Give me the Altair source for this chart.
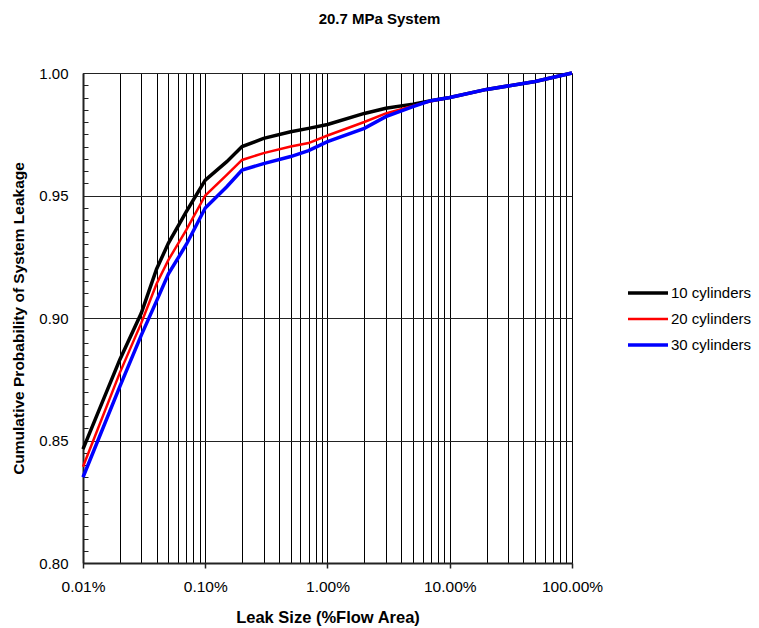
import altair as alt
import pandas as pd

# Leak size in percent of flow area (log axis)
leak_size = [0.01, 0.02, 0.03, 0.04, 0.05, 0.07, 0.1, 0.15, 0.2, 0.3,
             0.5, 0.7, 1, 2, 3, 5, 7, 10, 20, 50, 100]

# Cumulative probability of system leakage per configuration
p_10_cyl = [0.8465, 0.883, 0.902, 0.920, 0.9306, 0.9434, 0.9563, 0.9638, 0.970, 0.9733,
            0.976, 0.9774, 0.979, 0.9835, 0.9856, 0.9873, 0.9887, 0.990, 0.9933, 0.9965, 1.0]
p_20_cyl = [0.8393, 0.8776, 0.898, 0.914, 0.9237, 0.936, 0.950, 0.9584, 0.9645, 0.9673,
            0.970, 0.9714, 0.9745, 0.980, 0.9835, 0.9866, 0.9885, 0.990, 0.9933, 0.9965, 1.0]
p_30_cyl = [0.835, 0.872, 0.893, 0.907, 0.918, 0.930, 0.9449, 0.9536, 0.9604, 0.963,
            0.9659, 0.9683, 0.972, 0.9774, 0.9822, 0.9863, 0.9887, 0.990, 0.9933, 0.9965, 1.0]

series_names = ["10 cylinders", "20 cylinders", "30 cylinders"]
series_colors = ["#000000", "#ff0000", "#0000ff"]
series_widths = [3.5, 2.5, 3.5]

rows = []
for name, vals in zip(series_names, [p_10_cyl, p_20_cyl, p_30_cyl]):
    for i, (s, p) in enumerate(zip(leak_size, vals)):
        rows.append({"series": name, "size": s, "prob": p, "order": i})
df = pd.DataFrame(rows)

# Axis tick positions
x_decades = [0.01, 0.1, 1, 10, 100]
x_grid = [round(m * d, 6) for d in [0.01, 0.1, 1, 10] for m in range(1, 10)] + [100]
y_major = [0.80, 0.85, 0.90, 0.95, 1.00]
y_minor = [round(0.80 + 0.005 * i, 3) for i in range(41)]

FONT = "Liberation Sans"
x_scale = alt.Scale(type="log", domain=[0.01, 100], nice=False)
y_scale = alt.Scale(domain=[0.8, 1.0], nice=False, zero=False)

# Background layer: minor vertical grid and inward minor y ticks
grid_layer = alt.Chart(df).mark_line(opacity=0).encode(
    x=alt.X("size:Q", scale=x_scale,
            axis=alt.Axis(orient="bottom", values=x_grid, grid=True, gridColor="#000000",
                          gridWidth=1, gridOpacity=1, ticks=False, labels=False,
                          domain=False, title=None)),
    y=alt.Y("prob:Q", scale=y_scale,
            axis=alt.Axis(orient="left", values=y_minor, grid=False, ticks=True,
                          tickSize=5, tickWidth=1, tickColor="#222222", labels=False,
                          domain=False, offset=-5, title=None)),
    detail="series:N",
)

legend_opts = dict(title=None, orient="none", legendX=543, legendY=207,
                   symbolType="stroke", symbolSize=1600, labelFont=FONT,
                   labelFontSize=15, labelColor="#000000", labelOffset=1,
                   padding=0, rowPadding=0, clipHeight=26)

lines = alt.Chart(df).mark_line(interpolate="linear").encode(
    x=alt.X("size:Q", scale=x_scale,
            axis=alt.Axis(orient="bottom", values=x_decades, grid=False, ticks=True,
                          tickSize=5, tickColor="#222222", tickWidth=1.5,
                          labelExpr="format(datum.value, '.2f') + '%'",
                          labelFont=FONT, labelFontSize=15.5, labelColor="#000000",
                          labelPadding=11, labelFlush=False,
                          domain=True, domainColor="#222222", domainWidth=2,
                          title="Leak Size (%Flow Area)", titleFont=FONT,
                          titleFontSize=16.5, titleFontWeight="bold", titleColor="#000000",
                          titleBaseline="middle", titleY=54)),
    y=alt.Y("prob:Q", scale=y_scale,
            axis=alt.Axis(orient="left", values=y_major, format=".2f", grid=True,
                          gridColor="#222222", gridWidth=1, ticks=False, tickSize=0,
                          labelPadding=15, labelFont=FONT, labelFontSize=15,
                          labelColor="#000000",
                          domain=True, domainColor="#222222", domainWidth=2,
                          title="Cumulative Probability of System Leakage",
                          titleFont=FONT, titleFontSize=15.5, titleFontWeight="bold",
                          titleColor="#000000", titleBaseline="middle",
                          titleX=-65, titleY=245)),
    color=alt.Color("series:N",
                    scale=alt.Scale(domain=series_names, range=series_colors),
                    legend=alt.Legend(**legend_opts)),
    strokeWidth=alt.StrokeWidth("series:N",
                                scale=alt.Scale(type="ordinal", domain=series_names,
                                                range=series_widths),
                                legend=alt.Legend(**legend_opts)),
    order="order:Q",
)

chart = alt.layer(grid_layer, lines).resolve_axis(
    x="independent", y="independent"
).resolve_scale(x="shared", y="shared").properties(
    width=489,
    height=490,
    autosize=alt.AutoSizeParams(type="none"),
    padding={"left": 83, "top": 73, "right": 187, "bottom": 65},
    title=alt.TitleParams("20.7 MPa System", font=FONT, fontSize=15, fontWeight="bold",
                          color="#000000", anchor="middle", dx=52, baseline="bottom",
                          offset=24),
).configure_view(stroke="#555555", strokeWidth=1).configure(background="white")

chart.save("out.html", embed_options={"renderer": "svg", "actions": False})
